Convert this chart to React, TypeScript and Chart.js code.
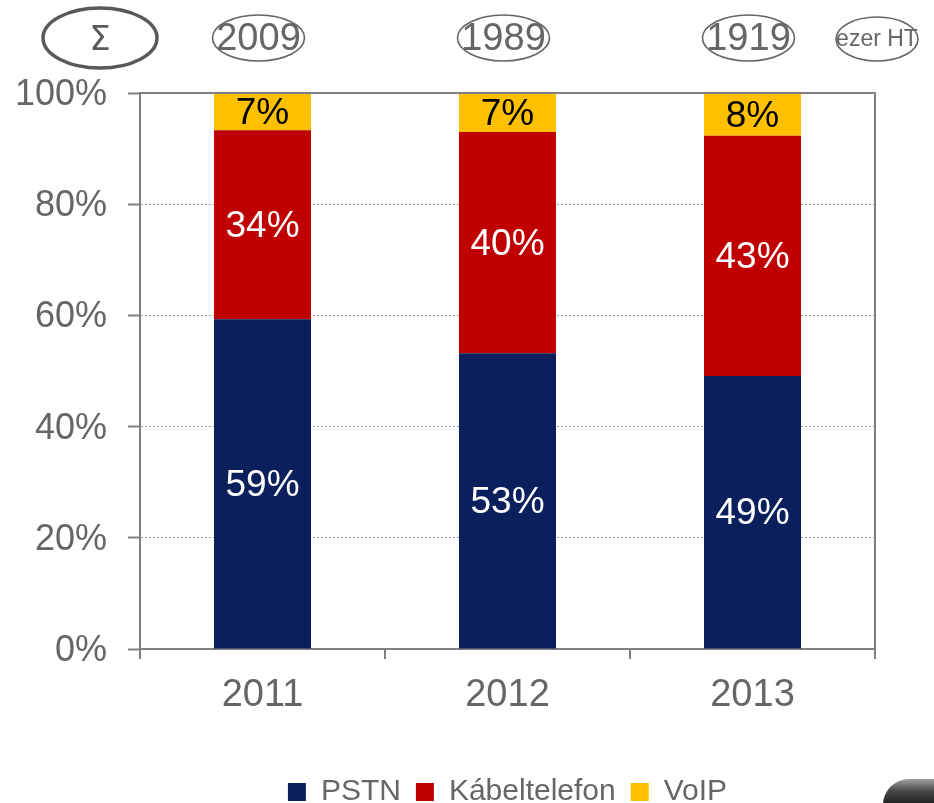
import React, { useEffect, useRef } from "react";
import { Chart, registerables } from "chart.js";

Chart.register(...registerables);

const categories = ["2011", "2012", "2013"];
const pstn = [59.3, 53.2, 49.1];
const kabel = [34.0, 39.8, 43.2];
const voip = [6.7, 7.0, 7.7];
const totals = ["2009", "1989", "1919"];
const yTicks = [0, 20, 40, 60, 80, 100];
const unitLabel = "ezer HT";
const sumLabel = "\u03A3";

const NAVY = "#0A1F5C";
const RED = "#C00000";
const YELLOW = "#FFC000";
const AXIS = "#808080";
const TEXT = "#666666";
const FONT = "'Liberation Sans', Arial, sans-serif";

const labelsPlugin = {
  id: "segLabels",
  afterDatasetsDraw(chart: any) {
    const ctx = chart.ctx;
    ctx.save();
    ctx.font = `37px ${FONT}`;
    ctx.textAlign = "center";
    ctx.textBaseline = "middle";
    chart.data.datasets.forEach((ds: any, di: number) => {
      const meta = chart.getDatasetMeta(di);
      meta.data.forEach((el: any, i: number) => {
        const v = ds.data[i];
        const cy = (el.y + el.base) / 2;
        ctx.fillStyle = di === 2 ? "#000000" : "#FFFFFF";
        ctx.fillText(Math.round(v) + "%", el.x, cy + 2);
      });
    });
    // frame top & right
    const a = chart.chartArea;
    ctx.strokeStyle = AXIS;
    ctx.lineWidth = 2;
    ctx.beginPath();
    ctx.moveTo(a.left, a.top);
    ctx.lineTo(a.right, a.top);
    ctx.lineTo(a.right, a.bottom);
    ctx.stroke();
    ctx.restore();
  },
  afterDraw(chart: any) {
    const ctx = chart.ctx;
    const xs = chart.scales.x;
    const a = chart.chartArea;
    ctx.save();
    // sum ellipse
    ctx.strokeStyle = "#595959";
    ctx.lineWidth = 3.5;
    ctx.beginPath();
    ctx.ellipse(a.left - 40, 38, 57, 30, 0, 0, Math.PI * 2);
    ctx.stroke();
    ctx.fillStyle = "#595959";
    ctx.font = `34px 'DejaVu Sans', ${FONT}`;
    ctx.textAlign = "center";
    ctx.textBaseline = "middle";
    ctx.fillText(sumLabel, a.left - 40, 41);
    // totals
    ctx.strokeStyle = TEXT;
    ctx.lineWidth = 1.6;
    ctx.fillStyle = TEXT;
    totals.forEach((t, i) => {
      const cx = xs.getPixelForValue(i) - 4;
      ctx.beginPath();
      ctx.ellipse(cx, 38, 46, 23, 0, 0, Math.PI * 2);
      ctx.stroke();
      ctx.font = `38px ${FONT}`;
      ctx.fillText(t, cx, 40);
    });
    // unit
    ctx.beginPath();
    ctx.ellipse(a.right + 2, 39, 41, 22, 0, 0, Math.PI * 2);
    ctx.stroke();
    ctx.font = `23px 'Liberation Sans Narrow', ${FONT}`;
    ctx.fillText(unitLabel, a.right + 2, 40);
    ctx.restore();
  },
};

export default function App() {
  const ref = useRef<HTMLCanvasElement | null>(null);
  useEffect(() => {
    document.body.style.margin = "0";
    document.body.style.overflow = "hidden";
    if (!ref.current) return;
    const chart = new Chart(ref.current, {
      type: "bar",
      data: {
        labels: categories,
        datasets: [
          { label: "PSTN", data: pstn, backgroundColor: NAVY },
          { label: "Kábeltelefon", data: kabel, backgroundColor: RED },
          { label: "VoIP", data: voip, backgroundColor: YELLOW },
        ],
      },
      options: {
        animation: false,
        responsive: false,
        layout: { padding: { left: 0, right: 59, top: 93, bottom: 0 } },
        datasets: { bar: { categoryPercentage: 1, barPercentage: 0.396 } },
        plugins: {
          tooltip: { enabled: false },
          legend: {
            position: "bottom",
            fullSize: false,
            labels: {
              boxWidth: 18,
              boxHeight: 18,
              padding: 15,
              color: TEXT,
              font: { size: 30, family: FONT },
            },
          },
        },
        scales: {
          x: {
            stacked: true,
            afterFit: (s: any) => {
              s.height = 113;
            },
            grid: {
              offset: true,
              drawOnChartArea: false,
              drawTicks: true,
              tickLength: 10,
              color: AXIS,
              lineWidth: 2,
            },
            border: { display: true, color: AXIS, width: 2 },
            ticks: { color: TEXT, padding: 14, font: { size: 38, family: FONT } },
          },
          y: {
            stacked: true,
            min: 0,
            max: 100,
            afterFit: (s: any) => {
              s.width = 140;
            },
            afterBuildTicks: (s: any) => {
              s.ticks = yTicks.map((v) => ({ value: v }));
            },
            grid: {
              color: "#9a9a9a",
              lineWidth: 1,
              tickLength: 12,
              tickColor: AXIS,
              tickWidth: 2,
            },
            border: { display: true, color: AXIS, width: 2, dash: [2, 2] },
            ticks: {
              color: TEXT,
              padding: 21,
              labelOffset: 2,
              font: { size: 36, family: FONT },
              callback: (v: any) => v + "%",
            },
          },
        },
      },
      plugins: [labelsPlugin],
    } as any);
    return () => chart.destroy();
  }, []);
  return (
    <div style={{ position: "relative", width: 934, height: 803, overflow: "hidden", background: "#fff" }}>
      <canvas ref={ref} width={934} height={817} style={{ display: "block" }} />
      <div
        style={{
          position: "absolute",
          left: 883,
          top: 779,
          width: 70,
          height: 40,
          borderTopLeftRadius: 26,
          background: "linear-gradient(to bottom, #a0a0a0 0%, #4a4a4a 30%, #1c1c1c 65%, #3a3a3a 100%)",
        }}
      />
    </div>
  );
}
